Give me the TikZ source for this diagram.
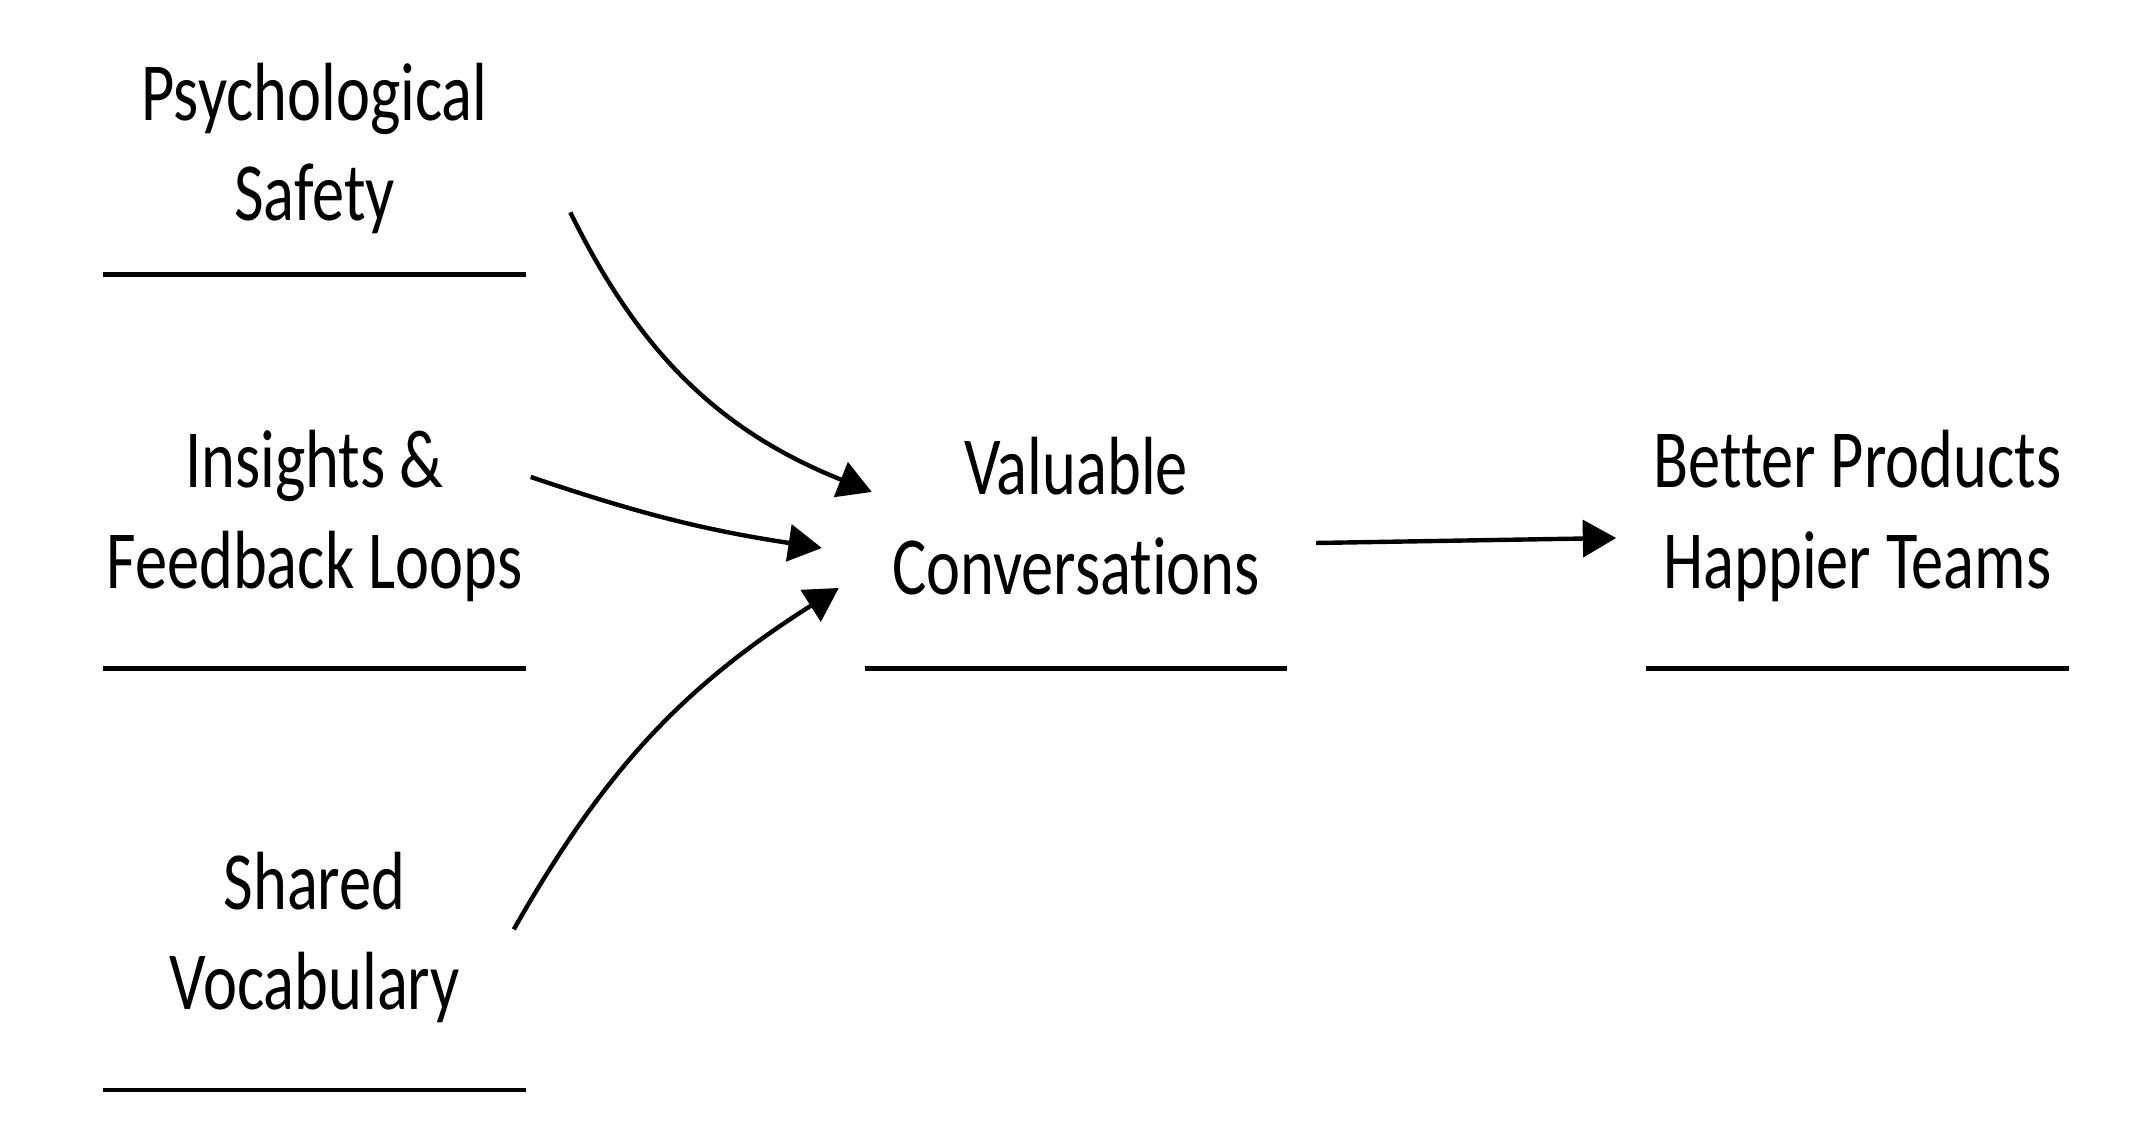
\documentclass[tikz,border=0pt]{standalone}
\usepackage{fontspec}
\setmainfont{Carlito}[FakeStretch=0.78, Ligatures=CommonOff]
\usetikzlibrary{positioning, arrows.meta}

\begin{document}
\begin{tikzpicture}
		[lbl/.style={text centered, align=center, inner sep=0pt, minimum width=4.21cm, minimum height=3.04cm, font=\fontsize{23.5}{28.5}\selectfont},
		 uline/.style={line width=1.35pt},
		 flow/.style={-{Triangle[length=9.5pt, width=10.5pt]}, line width=1.25pt}]
		\useasboundingbox (0,0) rectangle (21.38,11.32);
		% nodes %
		\node[lbl] (val) at (10.76,6.16) {Valuable\\Conversations};
		\node[lbl, left=3.39cm of val] (ins) {Insights \&\\Feedback Loops};
		\node[lbl, right=3.59cm of val] (bet) {Better Products\\Happier Teams};
		\node[lbl, minimum height=2.50cm, above=0.89cm of ins] (psy) {Psychological\\Safety};
		\node[lbl, below=1.16cm of ins] (sha) {Shared\\Vocabulary};

		% underlines %
		\foreach \n in {psy, ins, sha, val, bet}
			\draw[uline] (\n.south west) -- (\n.south east);

		% edges %
		\draw[flow] ([shift={(0.445,0.62)}]psy.south east) to[bend right=21] ([shift={(0.07,0.24)}]val.west);
		\draw[flow] ([shift={(0.05,0.39)}]ins.east) to[bend right=5] ([shift={(-0.43,-0.32)}]val.west);
		\draw[flow] ([shift={(-0.12,0.08)}]sha.east) to[bend left=14] ([shift={(-0.26,-0.72)}]val.west);
		\draw[flow] ([shift={(0.29,-0.27)}]val.east) -- ([shift={(-0.30,-0.22)}]bet.west);
		\end{tikzpicture}
\end{document}
